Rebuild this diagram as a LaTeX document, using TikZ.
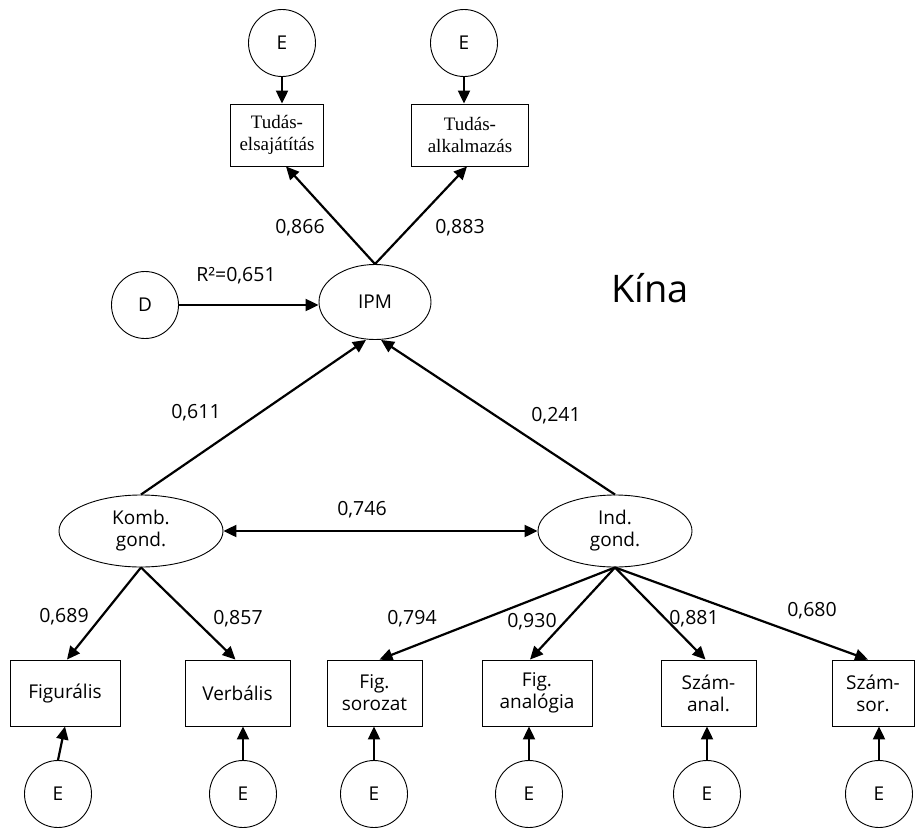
\documentclass[tikz,border=0pt]{standalone}
\usepackage{fontspec}
\setmainfont{Open Sans}
\newfontfamily\serifbox{Liberation Serif}
\usetikzlibrary{arrows.meta,calc,shapes.geometric}
\begin{document}
\begin{tikzpicture}[x=1pt,y=-1pt,
  every node/.style={font=\fontsize{19}{22}\selectfont, inner sep=0pt, align=center},
  errc/.style={draw, circle, line width=0.9pt, minimum size=67pt},
  obsbox/.style={draw, rectangle, line width=0.9pt, minimum height=66pt},
  topbox/.style={draw, rectangle, line width=0.9pt, minimum height=62pt, font=\serifbox\fontsize{19}{22}\selectfont},
  latent/.style={draw, ellipse, line width=0.9pt},
  lbl/.style={anchor=base, font=\fontsize{19.5}{22}\selectfont},
  arr/.style={line width=2.2pt, -{Triangle[length=13pt,width=12pt]}},
  darr/.style={line width=2.2pt, {Triangle[length=13pt,width=12pt]}-{Triangle[length=13pt,width=12pt]}}
]
\useasboundingbox (0,0) rectangle (915,830);

% top
\node[errc] (et1) at (282,43) {E};
\node[errc] (et2) at (464,43) {E};
\node[topbox, minimum width=93pt] (tu1) at (277,135) {Tudás-\\elsajátítás};
\node[topbox, minimum width=117pt] (tu2) at (470,135) {Tudás-\\alkalmazás};

\node[latent, minimum width=112pt, minimum height=75pt] (ipm) at (375,302) {IPM};
\node[errc] (d) at (145,305) {D};
\node[anchor=base, font=\fontsize{38}{40}\selectfont] (kina) at (650,302) {Kína};

\node[latent, minimum width=164pt, minimum height=72pt] (komb) at (141,531) {Komb.\\gond.};
\node[latent, minimum width=154pt, minimum height=72pt] (ind) at (615,531) {Ind.\\gond.};

% bottom boxes
\node[obsbox, minimum width=110pt] (fig) at (65,693) {Figurális};
\node[obsbox, minimum width=105pt] (verb) at (237.5,693) {Verbális};
\node[obsbox, minimum width=95pt] (figsor) at (374.5,693) {Fig.\\sorozat};
\node[obsbox, minimum width=110pt] (figan) at (537,693) {Fig.\\analógia};
\node[obsbox, minimum width=95pt] (szaman) at (708.5,693) {Szám-\\anal.};
\node[obsbox, minimum width=82pt] (szamsor) at (873,693) {Szám-\\sor.};

\node[errc] (e1) at (58,794) {E};
\node[errc] (e2) at (243,794) {E};
\node[errc] (e3) at (374,794) {E};
\node[errc] (e4) at (529,794) {E};
\node[errc] (e5) at (707,794) {E};
\node[errc] (e6) at (879,794) {E};

% connectors
\draw[arr] (et1.south) -- (et1.south |- tu1.north);
\draw[arr] (et2.south) -- (et2.south |- tu2.north);
\draw[arr] (ipm.north) -- ([xshift=9pt]tu1.south);
\draw[arr] (ipm.north) -- ([xshift=-3pt]tu2.south);
\draw[arr] (d.east) -- (d.east -| ipm.west);
\draw[arr] (komb.north) -- ([xshift=-9pt]ipm.south);
\draw[arr] (ind.north) -- ([xshift=6pt]ipm.south);
\draw[darr] (komb.east) -- (komb.east -| ind.west);

\draw[arr] (komb.south) -- ([xshift=2pt]fig.north);
\draw[arr] (komb.south) -- ([xshift=-2pt]verb.north);
\draw[arr] (ind.south) -- ([xshift=5pt]figsor.north);
\draw[arr] (ind.south) -- ([xshift=-7pt]figan.north);
\draw[arr] (ind.south) -- ([xshift=-3pt]szaman.north);
\draw[arr] (ind.south) -- ([xshift=-5pt]szamsor.north);

\draw[arr] (e1.north) -- (fig.south);
\draw[arr] (e2.north) -- (e2.north |- verb.south);
\draw[arr] (e3.north) -- (e3.north |- figsor.south);
\draw[arr] (e4.north) -- (e4.north |- figan.south);
\draw[arr] (e5.north) -- (e5.north |- szaman.south);
\draw[arr] (e6.north) -- (e6.north |- szamsor.south);

% labels
\node[lbl] (l866) at (300,233) {0,866};
\node[lbl] (l883) at (460,233) {0,883};
\node[lbl] (lr2) at (236,281) {R²=0,651};
\node[lbl] (l611) at (196,418) {0,611};
\node[lbl] (l241) at (556,421) {0,241};
\node[lbl] (l746) at (362,515) {0,746};
\node[lbl] (l689) at (64,622) {0,689};
\node[lbl] (l857) at (238,624) {0,857};
\node[lbl] (l794) at (412,624) {0,794};
\node[lbl] (l930) at (532,627) {0,930};
\node[lbl] (l881) at (694,624) {0,881};
\node[lbl] (l680) at (812,616) {0,680};
\end{tikzpicture}
\end{document}
